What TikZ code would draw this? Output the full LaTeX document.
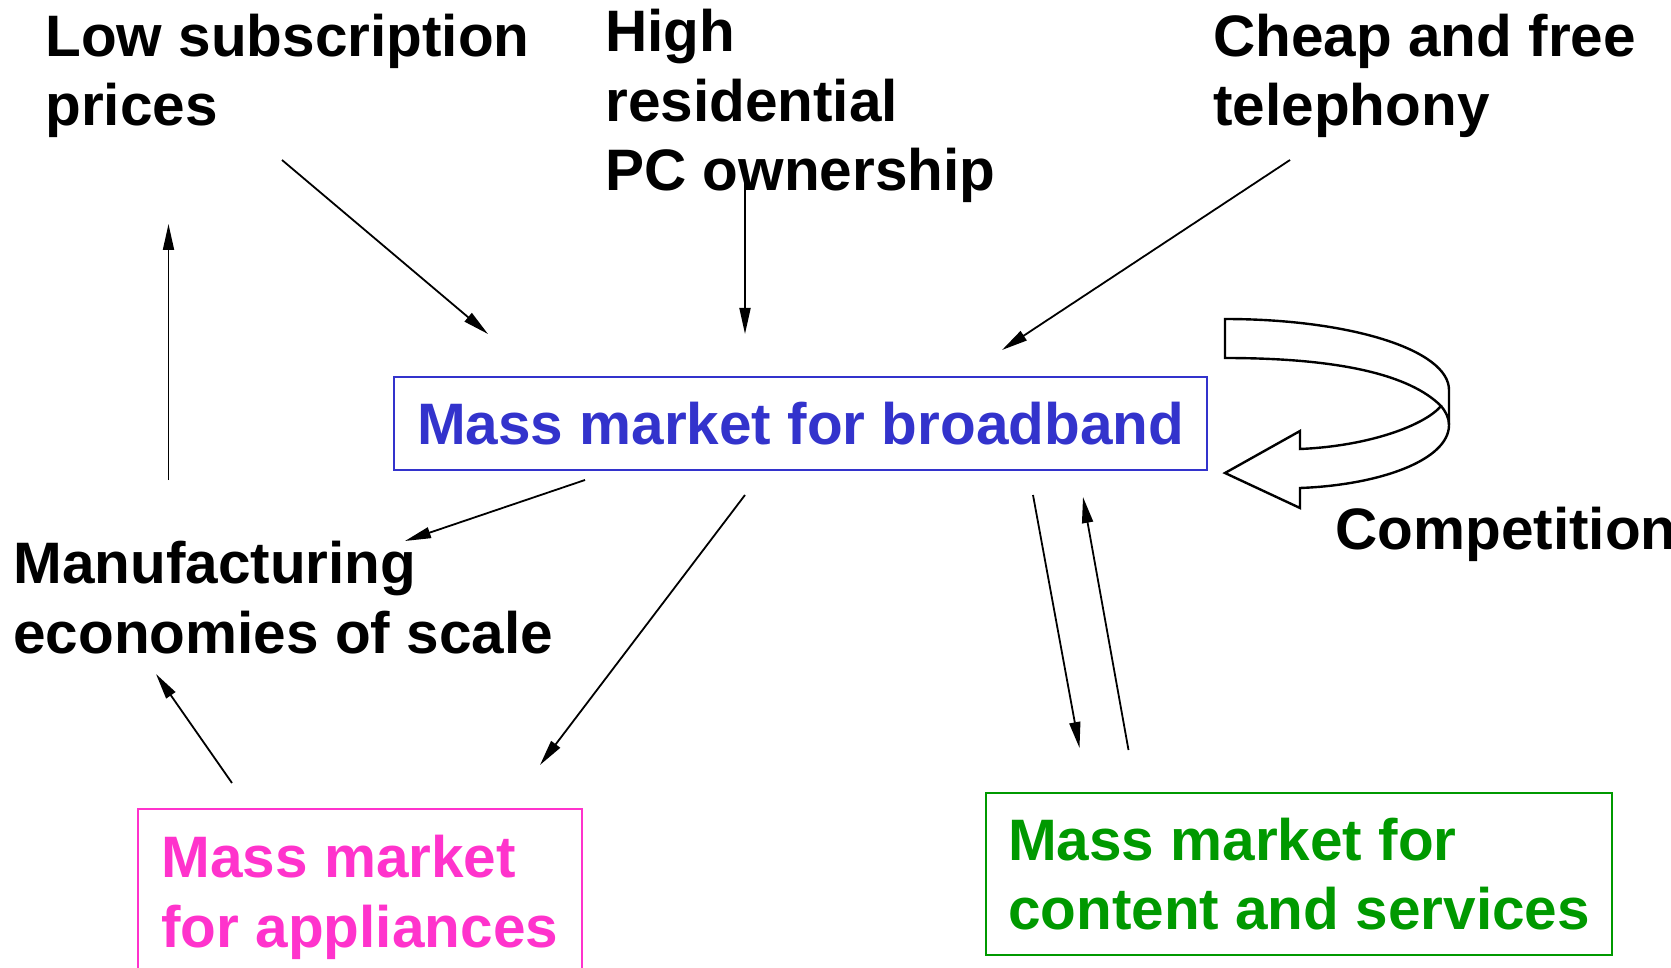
\documentclass[tikz,border=0pt]{standalone}
\usepackage{fontspec}
\setmainfont{Liberation Sans}
\usetikzlibrary{arrows.meta,calc,positioning}
\definecolor{BandBlue}{RGB}{51,51,204}
\definecolor{ApplPink}{RGB}{255,51,204}
\definecolor{ContGreen}{RGB}{0,153,0}
\newcommand\lblfont{\fontsize{29.25}{34.75}\selectfont\bfseries}
\tikzset{
  lbl/.style={font=\lblfont,anchor=base west,align=left,inner sep=0pt},
  mkt/.style={draw=#1,text=#1,font=\lblfont,align=left,line width=1pt,inner ysep=0pt,anchor=north west},
  feed/.style={-{Triangle[length=13pt,width=5.5pt]},line width=.9pt},
}
\begin{document}
\begin{tikzpicture}[x=.5pt,y=-.5pt]
\useasboundingbox (0,0) rectangle (1671,968);
% market boxes
\node[mkt=BandBlue,inner xsep=11.5pt,minimum height=46.5pt] (bb) at (393,376) {Mass market for broadband};
\node[mkt=ApplPink,inner xsep=12pt,minimum height=88.5pt] (appl) at (136.5,808) {Mass market\\for appliances};
\node[mkt=ContGreen,inner xsep=11pt,minimum height=81pt] (cont) at (985,792) {Mass market for\\content and services};
% drivers (placed at the baseline of their last line)
\node[lbl] (low) at (45,126) {Low subscription\\prices};
\node[lbl] (pc) at (605,191) {High\\residential\\PC ownership};
\node[lbl] (tel) at (1213,126) {Cheap and free\\telephony};
\node[lbl] (manu) at (13,653) {Manufacturing\\economies of scale};
\node[lbl] (comp) at (1335,549) {Competition};
% arrow ends
\coordinate (lowOut) at (282,160);   \coordinate (bbInA) at (488,334);
\coordinate (pcOut) at (745,181);    \coordinate (bbInB) at (745,334);
\coordinate (telOut) at (1290,160);  \coordinate (bbInC) at (1002,350);
\coordinate (manuOut) at (168.5,480); \coordinate (lowIn) at (168.5,224);
\coordinate (bbOutA) at (585,480);   \coordinate (manuIn) at (405,541);
\coordinate (bbOutB) at (745,495);   \coordinate (applIn) at (540,765);
\coordinate (applOut) at (232,783);  \coordinate (manuInB) at (156,674);
\coordinate (bbOutC) at (1033,495);  \coordinate (contIn) at (1079.5,748);
\coordinate (contOut) at (1128.5,750); \coordinate (bbInD) at (1083,497);
\draw[feed] (lowOut) -- (bbInA);
\draw[feed] (pcOut) -- (bbInB);
\draw[feed] (telOut) -- (bbInC);
\draw[feed] (manuOut) -- (lowIn);
\draw[feed] (bbOutA) -- (manuIn);
\draw[feed] (bbOutB) -- (applIn);
\draw[feed] (applOut) -- (manuInB);
\draw[feed] (bbOutC) -- (contIn);
\draw[feed] (contOut) -- (bbInD);
% competition ribbon
\draw[line width=1.2pt,line join=miter] (1225,319) .. controls (1350,319) and (1449,350) .. (1449,390)
  -- (1449,425) .. controls (1449,460) and (1380,485) .. (1300,488) -- (1300,508) -- (1225,473)
  -- (1300,431) -- (1300,449) .. controls (1370,446) and (1425,425) .. (1441,406)
  .. controls (1410,375) and (1340,358) .. (1225,358) -- cycle;
\draw[line width=1.2pt] (1441,406) .. controls (1446,412) and (1449,418) .. (1449,425);
\end{tikzpicture}
\end{document}
